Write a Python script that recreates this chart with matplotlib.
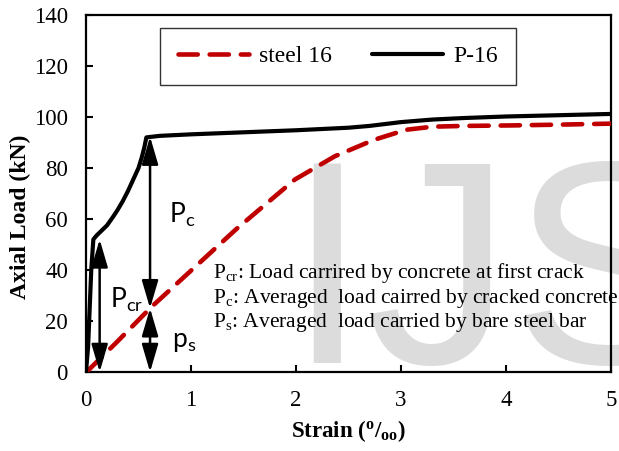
import numpy as np
import matplotlib
matplotlib.use("Agg")
import matplotlib.pyplot as plt

plt.rcParams['font.family'] = ['Liberation Serif', 'DejaVu Serif']
plt.rcParams['mathtext.fontset'] = 'custom'
plt.rcParams['mathtext.rm'] = 'Liberation Serif'
plt.rcParams['mathtext.it'] = 'Liberation Serif:italic'
plt.rcParams['mathtext.bf'] = 'Liberation Serif:bold'
plt.rcParams['mathtext.sf'] = 'Lato'

# P-16 specimen (black)
p16_strain = [0.0, 0.02, 0.05, 0.07, 0.1, 0.15, 0.2, 0.26, 0.3, 0.35, 0.4, 0.45, 0.5,
              0.53, 0.555, 0.575, 0.7, 1.0, 1.5, 2.0, 2.5, 2.7, 3.0, 3.3, 3.6, 4.0, 4.5, 5.0]
p16_load = [0.0, 10.0, 40.0, 52.0, 53.5, 55.5, 57.5, 61.0, 63.5, 67.0, 71.0, 75.5, 80.0,
            84.0, 88.0, 92.0, 92.6, 93.2, 94.0, 94.8, 95.8, 96.5, 98.0, 99.0, 99.6, 100.2,
            100.7, 101.2]

# bare steel bar 16 (red dashed)
steel_strain = [0.02, 0.3, 0.62, 0.98, 1.43, 1.99, 2.37, 2.74, 3.05, 3.3, 3.6, 4.06, 4.5, 5.0]
steel_load = [0.6, 12.0, 25.4, 39.0, 56.0, 75.5, 84.6, 91.0, 95.0, 96.2, 96.5, 96.7, 97.0, 97.4]

# arrows: (x, y_start, y_end)
arrows = [(0.13, 0, 52), (0.61, 25, 92.3), (0.61, 0, 25)]

notes = [r'$\mathrm{P_{cr}}$: Load carrired by concrete at first crack',
         r'$\mathrm{P_{c}}$: Averaged  load cairred by cracked concrete',
         r'$\mathrm{P_{s}}$: Averaged  load carried by bare steel bar']
note_y = [36.9, 27.1, 17.6]

fig = plt.figure(figsize=(6.19, 4.51), dpi=100)
ax = fig.add_axes([86/619, 1-372/451, 525/619, 357/451])
ax.set_facecolor('none')

# watermark behind axes
fig.text(286/619, 1-363/451, 'IJSER', fontsize=209, color='#DCDCDC',
         family='Liberation Sans', ha='left', va='baseline', zorder=-1)

ax.plot(steel_strain, steel_load, color='#C00000', lw=3.3, ls=(0, (4.2, 2.6)),
        dash_capstyle='round', label='steel 16', zorder=3)
ax.plot(p16_strain, p16_load, color='black', lw=3.0, label='P-16', zorder=4,
        solid_capstyle='round', solid_joinstyle='round')

for x, y0, y1 in arrows:
    ax.annotate('', xy=(x, y1), xytext=(x, y0),
                arrowprops=dict(arrowstyle='<|-|>,head_length=1.7,head_width=0.5',
                                color='black', lw=1.8, mutation_scale=10,
                                shrinkA=0, shrinkB=0), zorder=5)

ax.text(0.79, 58.4, r'$\mathsf{P_{c}}$', fontsize=19)
ax.text(0.23, 25.0, r'$\mathsf{P_{cr}}$', fontsize=19)
ax.text(0.82, 9.8, r'$\mathsf{p_{s}}$', fontsize=19)

for s, y in zip(notes, note_y):
    ax.text(1.21, y, s, fontsize=15.5, clip_on=False)

ax.set_xlim(0, 5)
ax.set_ylim(0, 140)
ax.set_xticks(range(0, 6))
ax.set_yticks(range(0, 141, 20))
ax.tick_params(direction='in', length=5, width=1.5, labelsize=16.5, pad=13)
for sp in ax.spines.values():
    sp.set_linewidth(1.6)

ax.set_xlabel(r'Strain ($\mathbf{{}^{o}/{}_{oo}}$)', fontsize=16.5, fontweight='bold', labelpad=5)
ax.set_ylabel('Axial Load (kN)', fontsize=17, fontweight='bold')
ax.yaxis.set_label_coords(-0.105, 0.434)

leg = ax.legend(loc='center', bbox_to_anchor=(0.48, 0.884), ncol=2, fontsize=17,
                frameon=True, fancybox=False, edgecolor='black', handlelength=3.0,
                handletextpad=0.45, columnspacing=1.7, borderpad=0.75)
leg.get_frame().set_linewidth(1.0)

fig.savefig('out.png', dpi=100)
